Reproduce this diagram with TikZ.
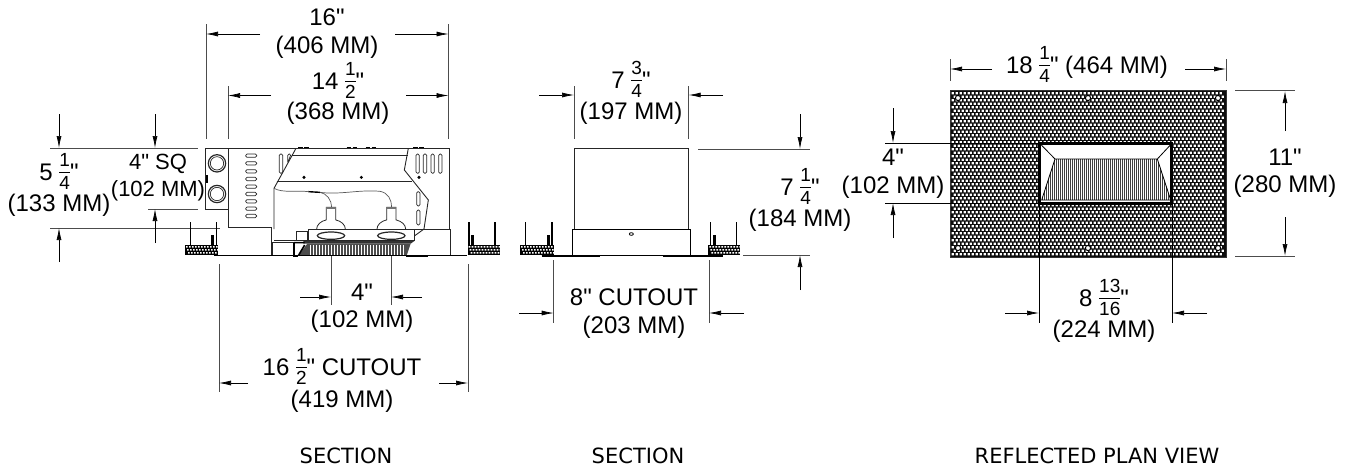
\documentclass[tikz,border=0pt]{standalone}
\usepackage{fontspec}
\setmainfont{Liberation Sans}[Ligatures=TeXOff]
\newfontfamily\labelfont{DejaVu Sans}
\usetikzlibrary{arrows.meta}
\newcommand\frc[2]{\ensuremath{\vcenter{\hbox{\fontsize{19}{19}\selectfont\setlength{\tabcolsep}{0pt}\setlength{\arrayrulewidth}{0.8pt}\begin{tabular}{c}\rule[-2pt]{0pt}{16pt}#1\\\hline\rule{0pt}{16.5pt}#2\end{tabular}}}}}
\newcommand\speck[4]{%
  \fill[black] (#1,#3) rectangle (#2,#4);
  \fill[white] foreach \sn in {0,1,...,10} {foreach \sy in {0,1,2} {({#1+3+\sn*9+\sy*3},{#3+3+\sy*9}) rectangle ++(5,5)}};
}
\newcommand\postpair[3]{%
  \draw[post] (#1,277) -- (#1,345);
  \draw[post] (#2,277) -- (#2,345);
  \draw[post,line width=3pt] (#3,315) -- (#3,345);
}
\tikzset{
  dimtxt/.style={font=\fontsize{24}{24}\selectfont,inner sep=0pt,align=center},
  ext/.style={draw=black!70,line width=0.8pt},
  dimarrow/.style={draw=black,line width=0.7pt,-{Latex[length=12pt,width=5pt]}},
  body/.style={draw=black!85,line width=0.9pt},
  post/.style={draw=black,line width=1.6pt},
  slot/.style={draw=black!85,line width=0.7pt,rounded corners=1.4pt},
  zoomA/.style={shift={(170,130)},x=0.33333pt,y=-0.33333pt},
  zoomB/.style={shift={(510,130)},x=0.33333pt,y=-0.33333pt},
  zoomC/.style={shift={(940,80)},x=0.33333pt,y=-0.33333pt},
  lamp/.style={body,line width=0.8pt},
  wire/.style={draw=black!65,line width=0.7pt},
  caption/.style={font=\labelfont\fontsize{21}{21}\selectfont,inner sep=0pt},
}
\begin{document}
\begin{tikzpicture}[x=1pt,y=-1pt]
\useasboundingbox (0,0) rectangle (1348,467);

% ---------- first section: dimension lines
\draw[ext] (206,24) -- (206,139) (448.5,24) -- (448.5,139);
\draw[dimarrow] (260,34) -- (206,34);
\draw[dimarrow] (395,34) -- (448.5,34);
\node[dimtxt] (t16) at (327,17) {16"};
\node[dimtxt] (t406) at (327,47) {(406 MM)};
\draw[ext] (228,86) -- (228,139);
\draw[dimarrow] (271,95.5) -- (228,95.5);
\draw[dimarrow] (406,95.5) -- (448.5,95.5);
\node[dimtxt] (t14) at (338,83) {14 \frc{1}{2}"};
\node[dimtxt] (t368) at (338,113) {(368 MM)};

\draw[ext] (50,148.5) -- (198,148.5);
\draw[ext] (148,209) -- (198,209);
\draw[ext] (50,228) -- (220,228);
\draw[dimarrow] (59,114) -- (59,148);
\draw[dimarrow] (155,114) -- (155,148);
\draw[dimarrow] (59,262) -- (59,228);
\draw[dimarrow] (155,243) -- (155,209);
\node[dimtxt] (t5) at (59,174) {5 \frc{1}{4}"};
\node[dimtxt] (t133) at (59,205) {(133 MM)};
\node[dimtxt,font=\fontsize{22}{22}\selectfont] (tsq) at (158,164) {4" SQ};
\node[dimtxt,font=\fontsize{22}{22}\selectfont] (t102a) at (158,190.5) {(102 MM)};

\draw[ext] (331,255) -- (331,305) (391,255) -- (391,305);
\draw[dimarrow] (300,297) -- (331,297);
\draw[dimarrow] (422,297) -- (391,297);
\node[dimtxt] (t4) at (362,292) {4"};
\node[dimtxt] (t102b) at (362,321) {(102 MM)};
\draw[ext] (219,264) -- (219,392) (468,264) -- (468,392);
\draw[dimarrow] (248,383) -- (219,383);
\draw[dimarrow] (439,383) -- (468,383);
\node[dimtxt] (t165) at (342,369) {16 \frc{1}{2}" CUTOUT};
\node[dimtxt] (t419) at (342,401) {(419 MM)};

% ---------- first section: body
\begin{scope}[zoomA]
  \draw[body] (107,55) rectangle (175,237);
  \draw[body] (175,55) -- (837,55) -- (837,297);
  \draw[body] (175,237) -- (175,293) -- (305,293);
  \foreach \cy in {100,192} {
    \draw[body,line width=1.2pt] (141,\cy) circle (26);
    \draw[body,line width=0.7pt] (141,\cy) circle (20);
  }
  \draw[post,line width=2pt] (110,135) -- (110,158);
  \foreach \sy in {77,100,124,147,170,192,214,236,258}
    \draw[slot] (227,\sy-5) rectangle (260,\sy+5);
  \foreach \sx in {333,743,765,788,811}
    \draw[slot] (\sx-5,72) rectangle (\sx+5,130);
  \draw[slot] (353,72) -- (363,72) -- (353,100) -- cycle;
  \draw[slot] (740,185) rectangle (750,228);
  \draw[slot] (740,240) rectangle (750,285);
  % housing
  \draw[body] (378,55) -- (312,175) -- (312,297);
  \draw[body] (365,75) -- (715,75);
  \draw[body] (320,153) -- (725,153);
  \draw[body] (715,55) -- (703,120) -- (775,210) -- (762,297) -- (733,318);
  \foreach \dx in {402,574,747} \fill[black] (\dx,142) circle (5);
  \foreach \tx in {385,403,530,548,587,605,730,748}
    \draw[post,line width=1.6pt] (\tx,53) -- (\tx+14,53);
  % wires
  \draw[wire] (312,175) .. controls (340,190) and (380,180) .. (415,185);
  \draw[post,line width=1.4pt] (415,185) -- (450,187);
  \draw[wire] (450,187) .. controls (470,190) and (485,210) .. (485,232);
  \draw[wire] (450,187) .. controls (510,195) and (570,178) .. (630,184) .. controls (655,188) and (665,210) .. (665,232);
  % lamps
  \foreach \lx in {483,664} {
    \draw[lamp] (\lx-43,297) arc[start angle=180,end angle=251,x radius=43,y radius=29] -- (\lx-14,232) -- (\lx+14,232) -- (\lx+14,269.6) arc[start angle=289,end angle=360,x radius=43,y radius=29];
    \fill[black!55] (\lx-14,230) rectangle (\lx+14,236);
  }
  \draw[body] (415,297) rectangle (733,332);
  \foreach \lx in {483,664} \draw[lamp,line width=1.2pt,fill=white] (\lx,317) ellipse (41 and 11);
  \fill[black!80] (400,333) -- (733,333) -- (722,341) -- (400,341) -- cycle;
  % louvre
  \fill[black!70] (385,377) -- (412,341) -- (722,341) -- (710,377) -- cycle;
  \draw[white,line width=0.5pt] foreach \hx in {420,429,...,700} {(\hx,344) -- (\hx,376)};
  \draw[body] (380,305) rectangle (413,332);
  \draw[body] (307,338) rectangle (372,375);
  \draw[body] (305,293) -- (305,375) (312,330) -- (380,330);
  \draw[post,line width=1.6pt] (372,338) -- (372,380) (372,338) -- (404,338) (385,377) -- (404,345);
  \draw[body] (733,297) -- (842,297) -- (842,377);
  \draw[post,line width=1pt] (133,377) -- (892,377);
  \draw[post,line width=2.2pt] (370,379) -- (385,379) (708,379) -- (775,379);
  \speck{45}{145}{345}{375}
  \speck{893}{990}{345}{375}
  \postpair{62}{140}{128}
  \postpair{897}{975}{908}
\end{scope}

% ---------- second section
\draw[ext] (574,86) -- (574,139) (688.7,86) -- (688.7,139);
\draw[dimarrow] (539,95) -- (574,95);
\draw[dimarrow] (723,95) -- (688.7,95);
\node[dimtxt] (t73) at (631,82) {7 \frc{3}{4}"};
\node[dimtxt] (t197) at (631,113) {(197 MM)};
\draw[ext] (698,149) -- (810,149) (743,255) -- (810,255);
\draw[dimarrow] (800,114) -- (800,149);
\draw[dimarrow] (800,290) -- (800,255);
\node[dimtxt] (t71) at (800,189) {7 \frc{1}{4}"};
\node[dimtxt] (t184) at (800,220) {(184 MM)};
\draw[ext] (553.7,260) -- (553.7,323) (709,260) -- (709,323);
\draw[dimarrow] (519,313) -- (553.7,313);
\draw[dimarrow] (744,313) -- (709,313);
\node[dimtxt] (t8) at (634,297) {8" CUTOUT};
\node[dimtxt] (t203) at (634,327) {(203 MM)};
\begin{scope}[zoomB]
  \draw[body] (192,298) -- (192,55) -- (536,55) -- (536,298);
  \draw[body,draw=black] (186,375) -- (186,298) -- (541,298) -- (541,375);
  \draw[black,line width=0.8pt] (364,312) ellipse (6 and 4);
  \draw[post,line width=1pt] (95,377) -- (640,377);
  \draw[post,line width=2pt] (95,378) -- (270,378) (460,378) -- (640,378);
  \speck{30}{133}{345}{375}
  \speck{595}{690}{345}{375}
  \postpair{47}{126}{115}
  \postpair{601}{680}{612}
\end{scope}

% ---------- reflected plan view
\draw[ext] (950,59) -- (950,81) (1226,59) -- (1226,81);
\draw[dimarrow] (992,69) -- (950,69);
\draw[dimarrow] (1185,69) -- (1226,69);
\node[dimtxt] (t18) at (1087,67) {18 \frc{1}{4}" (464 MM)};
\fill[black!95] (950,90.7) rectangle (1226,257);
\fill[white] foreach \ry in {0,1,...,46} {foreach \rx in {0,1,...,67} {
  ({951.5+\rx*4+mod(\ry,2)*2},{92+\ry*3.5}) rectangle ++(2.3,2.3)}};
\draw[black!80,line width=0.8pt] (950,90.7) rectangle (1226,257);
\foreach \hx in {958,1088,1218} \foreach \hy in {98,248}
  \draw[black,line width=1pt,fill=white] (\hx,\hy) circle (2.6);
\draw[black,line width=1pt] (885,143) -- (1040,143) (885,203) -- (1040,203);
\draw[black,line width=1pt] (1039,203) -- (1039,323) (1172,203) -- (1172,323);
\begin{scope}[zoomC]
  \draw[black,line width=3pt,fill=white] (299,190) rectangle (695,370);
  \fill[black!75] (345,237) -- (652,237) -- (692,360) -- (305,360) -- cycle;
  \begin{scope}
    \clip (345,237) -- (652,237) -- (692,360) -- (305,360) -- cycle;
    \draw[white,line width=0.45pt] foreach \hn in {0,1,...,65} {({305+\hn*6},237) -- ({305+\hn*6},360)};
  \end{scope}
  \draw[black,line width=0.8pt] (303,194) -- (345,237) -- (652,237) -- (692,194);
  \draw[black,line width=0.8pt] (345,237) -- (305,360) -- (692,360) -- (652,237);
\end{scope}
\draw[ext] (1235,90.7) -- (1295,90.7) (1235,256) -- (1295,256);
\draw[dimarrow] (1285,131) -- (1285,91);
\draw[dimarrow] (1285,217) -- (1285,256);
\node[dimtxt] (t11) at (1285,157) {11"};
\node[dimtxt] (t280) at (1285,186) {(280 MM)};
\draw[dimarrow] (893,108) -- (893,143);
\draw[dimarrow] (893,238) -- (893,203);
\node[dimtxt] (t4b) at (893,157) {4"};
\node[dimtxt] (t102c) at (893,187) {(102 MM)};
\draw[dimarrow] (1005,313) -- (1039,313);
\draw[dimarrow] (1207,313) -- (1172,313);
\node[dimtxt] (t813) at (1104,300) {8 \frc{13}{16}"};
\node[dimtxt] (t224) at (1104,331) {(224 MM)};

% ---------- captions
\node[caption] (c1) at (346,456) {SECTION};
\node[caption] (c2) at (638,456) {SECTION};
\node[caption] (c3) at (1097,456) {REFLECTED PLAN VIEW};
\end{tikzpicture}
\end{document}
